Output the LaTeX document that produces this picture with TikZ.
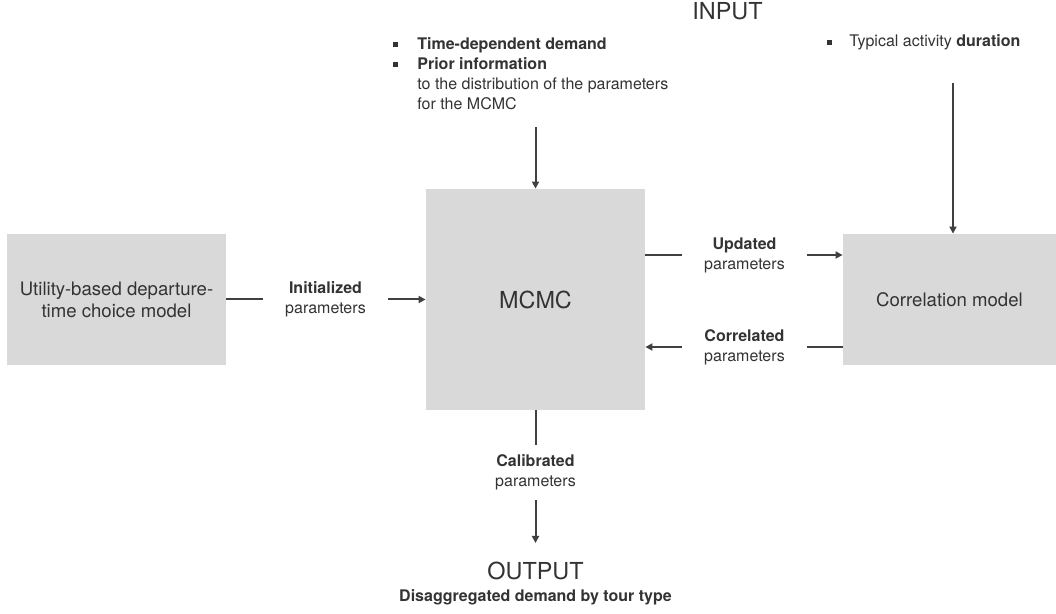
\documentclass[tikz,border=0pt]{standalone}
\usepackage{fontspec}
\setmainfont{TeX Gyre Heros}
\usetikzlibrary{arrows.meta,positioning}
\definecolor{boxgray}{HTML}{D9D9D9}
\definecolor{inkgray}{HTML}{333333}
\definecolor{linegray}{HTML}{404040}
\newcommand{\sqb}{\makebox[12pt][l]{\rule[0.15em]{2.5pt}{2.5pt}}}

\begin{document}
\begin{tikzpicture}[x=0.5pt, y=-0.5pt, text=inkgray]

		\tikzset{
			box/.style={fill=boxgray, inner sep=0pt, align=center, font=\fontsize{9.3}{11}\selectfont},
			lbl/.style={align=center, inner sep=0pt, minimum width=62.5pt, minimum height=27.5pt, font=\fontsize{8}{10}\selectfont},
			ln/.style={draw=linegray, line width=1pt},
			arr/.style={ln, -{Triangle[length=3.5pt, width=3.5pt]}},
			big/.style={font=\fontsize{11.7}{13}\selectfont},
		}

		\useasboundingbox (0,0) rectangle (1056,614);

		% boxes
		\node [box, minimum width=109.5pt, minimum height=65.5pt] (util) at (116.5,299.5) {Utility-based departure-\\time choice model};
		\node [box, big, minimum width=109.5pt, minimum height=110.5pt] (mcmc) at (535.5,299.5) {MCMC};
		\node [box, minimum width=106.5pt, minimum height=65.5pt] (corr) at (949.5,299.5) {Correlation model};

		% input / output texts
		\node [anchor=base, big] (input) at (727.5,20) {INPUT};
		\node [anchor=north west, align=left, inner sep=0pt, font=\fontsize{8}{10}\selectfont] (prior) at (393,37.5)
			{\sqb\textbf{Time-dependent demand}\\
			 \sqb\textbf{Prior information}\\
			 \hspace*{12pt}to the distribution of the parameters\\
			 \hspace*{12pt}for the MCMC};
		\node [anchor=base west, inner sep=0pt, font=\fontsize{8}{10}\selectfont] (dur) at (827,47)
			{\makebox[11pt][l]{\rule[0.15em]{2.5pt}{2.5pt}}Typical activity \textbf{duration}};
		\node [anchor=base, big] (output) at (535.5,580) {OUTPUT};
		\node [anchor=base, font=\fontsize{8}{10}\selectfont\bfseries] (disagg) at (535.5,602) {Disaggregated demand by tour type};

		\coordinate (priorend) at (535.5,127);
		\coordinate (durend) at (953,83);
		\coordinate (outend) at (535.5,543);

		% labels on the connectors
		\node [lbl] (init) at (325.5,299.5) {\textbf{Initialized}\\parameters};
		\node [lbl] (upd) at (744.5,255) {\textbf{Updated}\\parameters};
		\node [lbl] (cor) at (744.5,347) {\textbf{Correlated}\\parameters};
		\node [lbl] (cal) at (535.5,472.5) {\textbf{Calibrated}\\parameters};

		\draw [ln] (util) -- (init);
		\draw [arr] (init) -- (init -| mcmc.west);

		\draw [ln] (upd -| mcmc.east) -- (upd);
		\draw [arr] (upd) -- (upd -| corr.west);

		\draw [ln] (cor -| corr.west) -- (cor);
		\draw [arr] (cor) -- (cor -| mcmc.east);

		\draw [ln] (mcmc) -- (cal);
		\draw [arr] (cal) -- (outend);

		\draw [arr] (priorend) -- (mcmc);
		\draw [arr] (durend) -- (durend |- corr.north);
\end{tikzpicture}
\end{document}
